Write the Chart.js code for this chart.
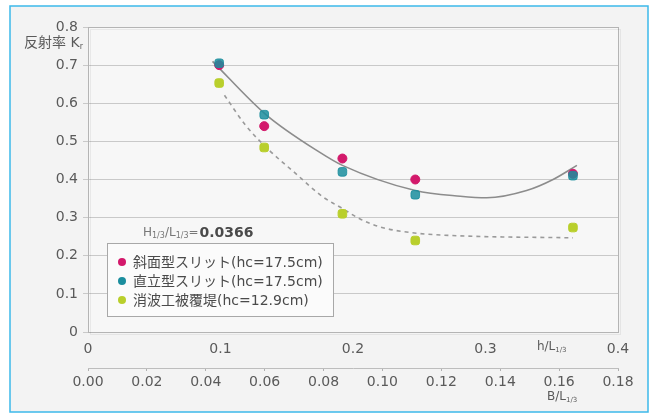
<!DOCTYPE html>
<html>
<head>
<meta charset="utf-8">
<script src="https://cdn.jsdelivr.net/npm/chart.js@4/dist/chart.umd.min.js"></script>
<style>
  html, body { margin: 0; padding: 0; background: #ffffff; }
  #wrap { width: 656px; height: 414px; }
</style>
</head>
<body>
<div id="wrap"><canvas id="c" width="656" height="414"></canvas></div>
<script>
// Measured points (x = h/L1/3)
const hL = [0.099, 0.133, 0.192, 0.247, 0.366];
const slopedSlit = [0.70, 0.54, 0.455, 0.40, 0.415];
const verticalSlit = [0.705, 0.57, 0.42, 0.36, 0.41];
const armouredBreakwater = [0.653, 0.484, 0.31, 0.24, 0.274];

// Trend curve through the slit results (solid)
const slitCurveX = [0.094, 0.134, 0.175, 0.192, 0.247, 0.281, 0.301, 0.331, 0.351, 0.369];
const slitCurveY = [0.71, 0.571, 0.471, 0.437, 0.371, 0.356, 0.352, 0.371, 0.400, 0.437];

// Trend curve through the armoured breakwater results (dashed)
const armourCurveX = [0.103, 0.119, 0.137, 0.156, 0.177, 0.192, 0.205, 0.220, 0.243, 0.275, 0.366];
const armourCurveY = [0.621, 0.542, 0.476, 0.418, 0.355, 0.324, 0.297, 0.276, 0.261, 0.253, 0.247];

// Axis ticks
const hLTicks = [0, 0.1, 0.2, 0.3, 0.4];
const bLTicks = [0, 0.02, 0.04, 0.06, 0.08, 0.10, 0.12, 0.14, 0.16, 0.18];
const kTicks = [0, 0.1, 0.2, 0.3, 0.4, 0.5, 0.6, 0.7, 0.8];

const seriesNames = ['斜面型スリット(hc=17.5cm)', '直立型スリット(hc=17.5cm)', '消波工被覆堤(hc=12.9cm)'];
const seriesColors = ['#d3196b', '#1b8e9e', '#b9cf2c'];
const waveSteepness = '0.0366';

const pts = (xs, ys) => xs.map((x, i) => ({ x: x, y: ys[i] }));

const NUM_FONT = '"DejaVu Sans", sans-serif';
const MIX_FONT = '"DejaVu Sans", "Noto Sans CJK JP", sans-serif';
const TEXT = '#5a5a5a';

// text with a small subscript part
function subText(ctx, x, y, main, sub, size, align) {
  ctx.save();
  ctx.textBaseline = 'middle';
  ctx.font = size + 'px ' + MIX_FONT;
  const w1 = ctx.measureText(main).width;
  ctx.font = Math.round(size * 0.6) + 'px ' + NUM_FONT;
  const w2 = ctx.measureText(sub).width;
  let sx = x;
  if (align === 'right') sx = x - w1 - w2;
  if (align === 'center') sx = x - (w1 + w2) / 2;
  ctx.fillStyle = TEXT;
  ctx.font = size + 'px ' + MIX_FONT;
  ctx.textAlign = 'left';
  ctx.fillText(main, sx, y);
  ctx.font = Math.round(size * 0.6) + 'px ' + NUM_FONT;
  ctx.fillText(sub, sx + w1, y + size * 0.25);
  ctx.restore();
}

const decor = {
  id: 'decor',
  beforeDraw(chart) {
    const ctx = chart.ctx;
    const a = chart.chartArea;
    ctx.save();
    ctx.fillStyle = '#ffffff';
    ctx.fillRect(0, 0, chart.width, chart.height);
    ctx.fillStyle = '#f3f3f3';
    ctx.fillRect(10, 6, 638, 406);
    ctx.strokeStyle = '#3cb9ea';
    ctx.lineWidth = 1.5;
    ctx.strokeRect(10, 6, 638, 406);
    ctx.fillStyle = '#f7f7f7';
    ctx.fillRect(a.left, a.top, a.right - a.left, a.bottom - a.top);
    ctx.restore();
  },
  afterDatasetsDraw(chart) {
    const ctx = chart.ctx;
    const a = chart.chartArea;
    ctx.save();
    // plot frame
    ctx.strokeStyle = '#b4b4b4';
    ctx.lineWidth = 1;
    ctx.strokeRect(a.left + 0.5, a.top + 0.5, a.right - a.left, a.bottom - a.top);
    ctx.strokeStyle = 'rgba(0,0,0,0.06)';
    ctx.strokeRect(a.left + 2.5, a.top + 2.5, a.right - a.left, a.bottom - a.top);

    // axis titles
    const x = chart.scales.x, xb = chart.scales.xb;
    subText(ctx, 83, 43, '反射率 K', 'r', 14, 'right');
    subText(ctx, x.getPixelForValue(0.35), 347, 'h/L', '1/3', 12, 'center');
    subText(ctx, xb.getPixelForValue(0.16) + 3, 397, 'B/L', '1/3', 12, 'center');

    // wave steepness note
    ctx.textBaseline = 'middle';
    let tx = 143;
    const ty = 233;
    ctx.fillStyle = '#777';
    ctx.font = '12px ' + NUM_FONT;
    ctx.fillText('H', tx, ty); tx += ctx.measureText('H').width;
    ctx.font = '8px ' + NUM_FONT;
    ctx.fillText('1/3', tx, ty + 3); tx += ctx.measureText('1/3').width;
    ctx.font = '12px ' + NUM_FONT;
    ctx.fillText('/L', tx, ty); tx += ctx.measureText('/L').width;
    ctx.font = '8px ' + NUM_FONT;
    ctx.fillText('1/3', tx, ty + 3); tx += ctx.measureText('1/3').width;
    ctx.font = '12px ' + NUM_FONT;
    ctx.fillText('=', tx, ty); tx += ctx.measureText('=').width + 1;
    ctx.fillStyle = '#4a4a4a';
    ctx.font = 'bold 14px ' + NUM_FONT;
    ctx.fillText(waveSteepness, tx, ty);

    // legend box
    const lx = 107, ly = 243, lw = 226, lh = 73;
    ctx.fillStyle = '#fbfbfb';
    ctx.fillRect(lx, ly, lw, lh);
    ctx.strokeStyle = '#a8a8a8';
    ctx.lineWidth = 1;
    ctx.strokeRect(lx + 0.5, ly + 0.5, lw, lh);
    seriesNames.forEach((name, i) => {
      const ry = ly + 19 + i * 19;
      ctx.beginPath();
      ctx.arc(lx + 15, ry, 4, 0, Math.PI * 2);
      ctx.fillStyle = seriesColors[i];
      ctx.fill();
      ctx.fillStyle = '#4a4a4a';
      ctx.font = '14px ' + MIX_FONT;
      ctx.textBaseline = 'middle';
      ctx.textAlign = 'left';
      ctx.fillText(name, lx + 26, ry + 1);
    });
    ctx.restore();
  }
};

new Chart(document.getElementById('c'), {
  type: 'scatter',
  data: {
    datasets: [
      {
        label: 'slit trend', type: 'line', data: pts(slitCurveX, slitCurveY),
        borderColor: '#8c8c8c', borderWidth: 1.6, pointRadius: 0, fill: false,
        cubicInterpolationMode: 'monotone', order: 10
      },
      {
        label: 'armour trend', type: 'line', data: pts(armourCurveX, armourCurveY),
        borderColor: '#9a9a9a', borderWidth: 1.6, borderDash: [4, 4], pointRadius: 0, fill: false,
        cubicInterpolationMode: 'monotone', order: 9
      },
      {
        label: seriesNames[2], data: pts(hL, armouredBreakwater),
        backgroundColor: seriesColors[2], borderColor: seriesColors[2],
        pointStyle: 'rectRounded', pointRadius: 5, order: 3
      },
      {
        label: seriesNames[0], data: pts(hL, slopedSlit),
        backgroundColor: seriesColors[0], borderColor: seriesColors[0],
        pointStyle: 'circle', pointRadius: 4.5, order: 2
      },
      {
        label: seriesNames[1], data: pts(hL, verticalSlit),
        backgroundColor: 'rgba(27,142,158,0.85)', borderColor: 'rgba(27,142,158,0.85)',
        pointStyle: 'rectRounded', pointRadius: 5, order: 1
      }
    ]
  },
  options: {
    responsive: false,
    animation: false,
    layout: { padding: { top: 27, right: 38, left: 0, bottom: 4 } },
    plugins: { legend: { display: false }, tooltip: { enabled: false } },
    scales: {
      x: {
        type: 'linear', position: 'bottom', min: 0, max: 0.4,
        afterBuildTicks: s => { s.ticks = hLTicks.map(v => ({ value: v })); },
        afterFit: s => { s.height = 36; },
        grid: { display: false },
        border: { display: false },
        ticks: {
          padding: 1, color: TEXT, font: { family: NUM_FONT, size: 14 },
          callback: v => v === 0 ? '0' : String(+v.toFixed(1))
        }
      },
      xb: {
        type: 'linear', position: 'bottom', min: 0, max: 0.18,
        afterBuildTicks: s => { s.ticks = bLTicks.map(v => ({ value: v })); },
        afterFit: s => { s.height = 42; },
        grid: { display: true, drawOnChartArea: false, tickLength: 3, color: '#b0b0b0' },
        border: { display: true, color: '#bdbdbd', width: 1 },
        ticks: {
          padding: 3, color: TEXT, font: { family: NUM_FONT, size: 14 },
          callback: v => v.toFixed(2)
        }
      },
      y: {
        type: 'linear', position: 'left', min: 0, max: 0.8,
        afterBuildTicks: s => { s.ticks = kTicks.map(v => ({ value: v })); },
        afterFit: s => { s.width = 88; },
        grid: { color: '#c9c9c9', lineWidth: 1, tickLength: 5, drawTicks: true },
        border: { display: false },
        ticks: {
          padding: 5, color: TEXT, font: { family: NUM_FONT, size: 14 },
          callback: v => v === 0 ? '0' : v.toFixed(1)
        }
      }
    }
  },
  plugins: [decor]
});
</script>
</body>
</html>
